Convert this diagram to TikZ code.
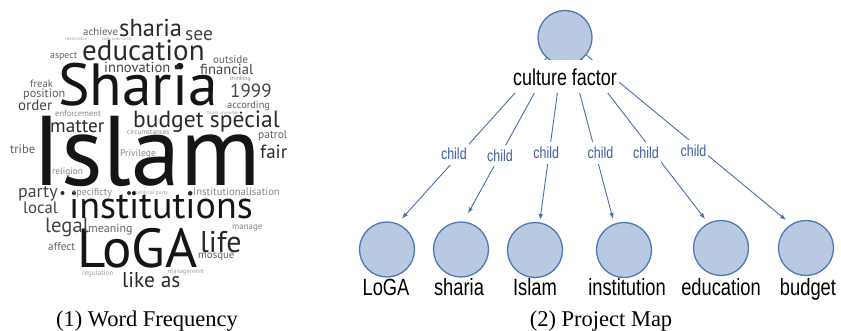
\documentclass[tikz,border=0pt]{standalone}
\usepackage{fontspec}
\usetikzlibrary{arrows.meta,calc,backgrounds}
\newfontfamily\cloudfont{PT Sans}
\newfontfamily\mapfont[FakeStretch=0.78]{Liberation Sans}
\newfontfamily\capfont{Liberation Serif}
\newcommand\fs[1]{\cloudfont\fontsize{#1}{#1}\selectfont}
\definecolor{ink}{HTML}{151515}
\definecolor{gA}{HTML}{2A2A2A}
\definecolor{gB}{HTML}{444444}
\definecolor{gC}{HTML}{606060}
\definecolor{gD}{HTML}{858585}
\definecolor{gE}{HTML}{A0A0A0}
\definecolor{edgeblue}{HTML}{4A6EA8}
\definecolor{ringblue}{HTML}{4B78B4}
\definecolor{discblue}{HTML}{B9C9E2}
\definecolor{labblue}{HTML}{3D5FA3}
\tikzset{
  w/.style={anchor=base west, inner sep=0pt},
  dotw/.style={circle, inner sep=0pt, minimum size=#1, fill=gA},
  disc/.style={circle, draw=ringblue, fill=discblue, line width=1.3pt, minimum size=55pt, inner sep=0pt},
  maplbl/.style={anchor=base, inner sep=0pt, font=\mapfont\fontsize{23.5}{23.5}\selectfont, text=black},
  tie/.style={draw=edgeblue, line width=0.9pt, -{Latex[length=6pt,width=4.5pt]}},
  tielbl/.style={fill=white, inner xsep=2pt, inner ysep=5pt, text=labblue, font=\mapfont\fontsize{16}{16}\selectfont},
  caption/.style={anchor=base, inner sep=0pt, font=\capfont\fontsize{22.5}{22.5}\selectfont}
}
\begin{document}
\begin{tikzpicture}[x=1pt,y=-1pt]
\useasboundingbox (0,0) rectangle (841,330);

% ---- word cloud ----
\node[w, font=\fs{99}, text=ink] (islam) at (32,185) {Islam};
\node[w, font=\fs{59.5}, text=ink] (sharia) at (58,105) {Sharia};
\node[w, font=\fs{38}, text=ink] (institutions) at (69,218) {institutions};
\node[w, font=\fs{55}, text=ink] (loga) at (77,267) {LoGA};
\node[w, font=\fs{29}, text=gA] (education) at (82,60) {education};
\node[w, font=\fs{24.5}, text=gA] (sharias) at (119,36) {sharia};
\node[w, font=\fs{19.5}, text=gB] (see) at (185,40) {see};
\node[w, font=\fs{10.8}, text=gC] (achieve) at (83,35) {achieve};
\node[w, font=\fs{4.7}, text=gE] (reasonable) at (65,40) {reasonable};
\node[w, font=\fs{4.3}, text=gE] (faith) at (102,40) {faith community};
\node[w, font=\fs{9.8}, text=gC] (aspect) at (50,58) {aspect};
\node[w, font=\fs{14.5}, text=gB] (innovation) at (104,72) {innovation};
\node[dotw=5pt] (dotA) at (177,67) {};
\node[w, font=\fs{11}, text=gC] (outside) at (213,63) {outside};
\node[w, font=\fs{14.6}, text=gB] (financial) at (200,74) {financial};
\node[w, font=\fs{5.8}, text=gD] (thinking) at (230,80) {thinking};
\node[w, font=\fs{10.6}, text=gC] (freak) at (30,87) {freak};
\node[w, font=\fs{12.2}, text=gC] (position) at (23,97) {position};
\node[w, font=\fs{15}, text=gB] (order) at (18,110) {order};
\node[w, font=\fs{19}, text=gB] (year) at (230,97) {1999};
\node[w, font=\fs{10.4}, text=gC] (according) at (227,108) {according};
\node[w, font=\fs{8.5}, text=gD] (enforcement) at (55,116) {enforcement};
\node[w, font=\fs{4.3}, text=gE] (wisdom) at (207,114) {Words of wisdom};
\node[dotw=2.5pt] (dotB) at (241,112.5) {};
\node[w, font=\fs{19.2}, text=gA] (matter) at (50,132) {matter};
\node[w, font=\fs{23.5}, text=gA] (budget) at (133,127) {budget special};
\node[w, font=\fs{7}, text=gD] (circum) at (127,134) {circumstances};
\node[w, font=\fs{11.4}, text=gC] (patrol) at (258,138) {patrol};
\node[w, font=\fs{12.5}, text=gC] (tribe) at (10,153) {tribe};
\node[w, font=\fs{9.6}, text=gD] (privilege) at (120,156) {Privilege};
\node[w, font=\fs{19}, text=gA] (fair) at (260,158) {fair};
\node[w, font=\fs{9.3}, text=gD] (religion) at (52,174) {religion};
\node[w, font=\fs{17.8}, text=gB] (party) at (18,197) {party};
\node[dotw=4pt] (dotC) at (62.5,193) {};
\node[w, font=\fs{10}, text=gD] (specificty) at (72,195) {specificty};
\node[dotw=4pt] (dotD) at (129,193) {};
\node[w, font=\fs{5.5}, text=gE] (political) at (135,194) {political party};
\node[dotw=4pt] (dotE) at (190,193.5) {};
\node[w, font=\fs{10.7}, text=gD] (institutionalisation) at (193,195) {Institutionalisation};
\node[w, font=\fs{16.7}, text=gB] (local) at (23,213) {local};
\node[w, font=\fs{20.6}, text=gB] (legal) at (45,232) {legal};
\node[w, font=\fs{11.9}, text=gC] (meaning) at (88,232) {meaning};
\node[w, font=\fs{8.9}, text=gD] (manage) at (232,229) {manage};
\node[w, font=\fs{30}, text=gA] (life) at (200,252) {life};
\node[w, font=\fs{11.2}, text=gC] (affect) at (48,250) {affect};
\node[w, font=\fs{10.8}, text=gC] (mosque) at (198,258) {mosque};
\node[w, font=\fs{7.1}, text=gE] (regulation) at (82,275) {regulation};
\node[w, font=\fs{6.4}, text=gE] (management) at (168,273) {management};
\node[w, font=\fs{21.4}, text=gA] (likeas) at (122,287) {like as};

\node[caption] (cap1) at (147,326) {(1) Word Frequency};

% ---- project map ----
\node[disc, minimum size=54pt] (root) at (565,37.5) {};
\node[maplbl, font=\mapfont\fontsize{23}{23}\selectfont, fill=white, inner xsep=2pt, inner ysep=8pt] (rootlbl) at (565,85) {culture factor};

\node[disc] (c1) at (387,249.5) {};
\node[disc] (c2) at (461,249.5) {};
\node[disc] (c3) at (535,250) {};
\node[disc] (c4) at (624,250) {};
\node[disc] (c5) at (721,248) {};
\node[disc] (c6) at (806,248) {};

\node[maplbl] (l1) at (386,295.5) {LoGA};
\node[maplbl] (l2) at (459,295.5) {sharia};
\node[maplbl] (l3) at (535,295.5) {Islam};
\node[maplbl] (l4) at (627,295.5) {institution};
\node[maplbl] (l5) at (721,295.5) {education};
\node[maplbl] (l6) at (808,295.5) {budget};

\node[caption] (cap2) at (601,326) {(2) Project Map};

\begin{pgfonlayer}{background}
  \draw[tie] (root.center) -- ($(c1)+(15,-31)$) node[tielbl, pos=.645, xshift=-6pt] (e1) {child};
  \draw[tie] (root.center) -- ($(c2)+(7,-36)$) node[tielbl, pos=.67] (e2) {child};
  \draw[tie] (root.center) -- ($(c3)+(5,-30)$) node[tielbl, pos=.633, xshift=-3pt] (e3) {child};
  \draw[tie] (root.center) -- ($(c4)+(-11,-31)$) node[tielbl, pos=.636, xshift=5pt] (e4) {child};
  \draw[tie] (root.center) -- ($(c5)+(-16,-29)$) node[tielbl, pos=.636, xshift=-8pt] (e5) {child};
  \draw[tie] (root.center) -- ($(c6)+(-20,-28)$) node[tielbl, pos=.622, xshift=-9pt] (e6) {child};
\end{pgfonlayer}
\end{tikzpicture}
\end{document}
